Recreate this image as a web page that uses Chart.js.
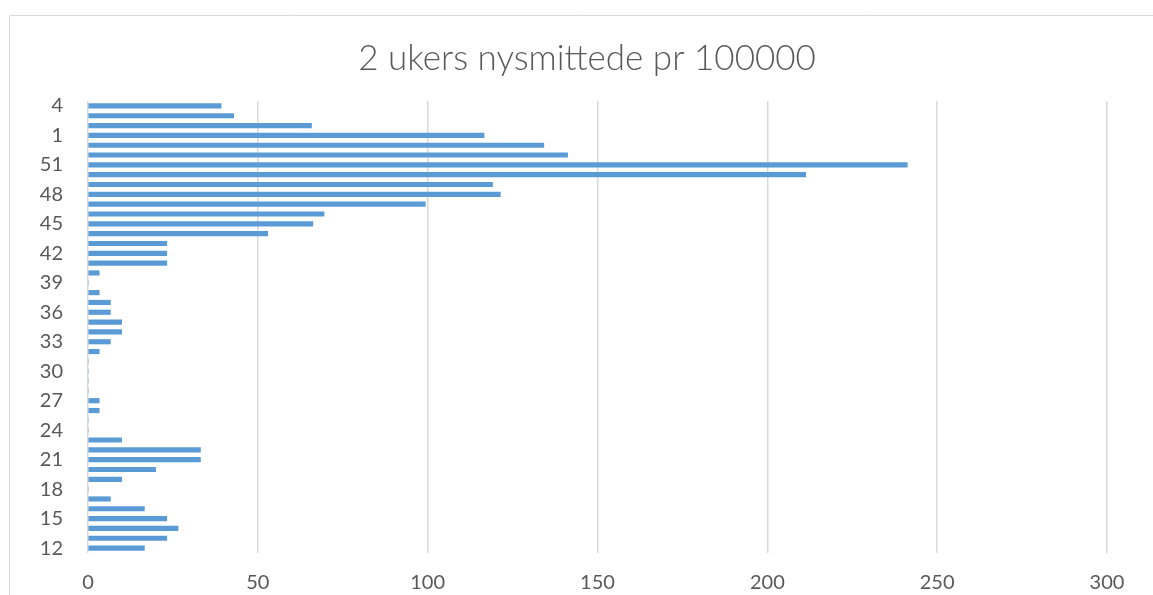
<!DOCTYPE html>
<html>
<head>
<meta charset="utf-8">
<script src="https://cdn.jsdelivr.net/npm/chart.js@4/dist/chart.umd.min.js"></script>
<style>
  html, body { margin: 0; padding: 0; background: #fff; }
  #wrap { width: 1153px; height: 595px; position: relative; }
</style>
</head>
<body>
<div id="wrap"><canvas id="chart" width="1153" height="595"></canvas></div>
<script>
// uker 12-53 (2020) og 1-4 (2021)
const weeks = [12, 13, 14, 15, 16, 17, 18, 19, 20, 21, 22, 23, 24, 25, 26, 27, 28, 29, 30, 31,
    32, 33, 34, 35, 36, 37, 38, 39, 40, 41, 42, 43, 44, 45, 46, 47, 48, 49, 50, 51, 52, 53,
    1, 2, 3, 4];
const newCases = [16.6, 23.2, 26.5, 23.2, 16.6, 6.6, 0, 9.9, 19.9, 33.1, 33.1, 9.9, 0, 0, 3.3, 3.3, 0, 0, 0, 0,
    3.3, 6.6, 9.9, 9.9, 6.6, 6.6, 3.3, 0, 3.3, 23.2, 23.2, 23.2, 52.9, 66.2, 69.5, 99.3, 121.4, 119.1, 211.3, 241.2, 141.2, 134.2,
    116.6, 65.8, 42.9, 39.2];
const xTicks = [0, 50, 100, 150, 200, 250, 300];

const grey = '#595959';
const gridGrey = '#D9D9D9';

// ramme rundt diagramområdet + tittel sentrert over hele rammen (som i Excel)
const frame = {
    id: 'frame',
    afterLayout(chart) {
        chart.titleBlock.left = 21;
        chart.titleBlock.right = 1153;
    },
    beforeDraw(chart) {
        const ctx = chart.ctx;
        ctx.save();
        ctx.strokeStyle = gridGrey;
        ctx.lineWidth = 1;
        ctx.beginPath();
        ctx.moveTo(9.5, 600);
        ctx.lineTo(9.5, 15.5);
        ctx.lineTo(1160, 15.5);
        ctx.stroke();
        ctx.restore();
    }
};

new Chart(document.getElementById('chart'), {
    type: 'bar',
    data: {
        labels: weeks.map(String),
        datasets: [{
            data: newCases,
            backgroundColor: '#5B9BD5',
            barThickness: 4.5
        }]
    },
    options: {
        indexAxis: 'y',
        responsive: false,
        animation: false,
        layout: { padding: { left: 0, right: 46, top: 0, bottom: 0 } },
        plugins: {
            legend: { display: false },
            tooltip: { enabled: false },
            title: {
                display: true,
                text: '2 ukers nysmittede pr 100000',
                color: grey,
                font: { family: 'Lato', size: 35, weight: '300' },
                padding: { top: 38, bottom: 21 }
            }
        },
        scales: {
            y: {
                reverse: true,
                border: { display: false },
                grid: { display: false, drawTicks: false },
                afterFit(scale) { scale.width = 88; },
                ticks: {
                    autoSkip: false,
                    padding: 25,
                    color: grey,
                    font: { family: 'Lato', size: 20 },
                    callback(val, i) { return i % 3 === 0 ? weeks[i] : ''; }
                }
            },
            x: {
                min: 0,
                max: 300,
                border: { display: false },
                grid: { color: gridGrey, lineWidth: 1.5, drawTicks: false },
                afterFit(scale) { scale.height = 42; },
                afterBuildTicks(scale) { scale.ticks = xTicks.map(v => ({ value: v })); },
                ticks: {
                    padding: 18,
                    color: grey,
                    font: { family: 'Lato', size: 20 }
                }
            }
        }
    },
    plugins: [frame]
});
</script>
</body>
</html>
